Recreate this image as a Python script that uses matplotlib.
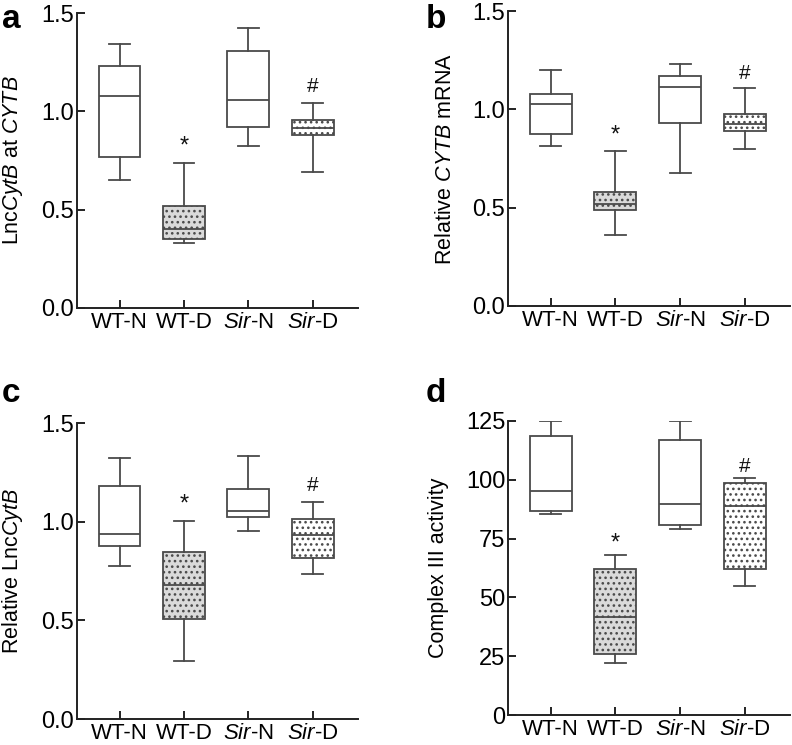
import numpy as np
import matplotlib
matplotlib.use("Agg")
import matplotlib.pyplot as plt

plt.rcParams['font.family'] = ['Liberation Sans', 'DejaVu Sans']
plt.rcParams['mathtext.fontset'] = 'custom'
plt.rcParams['mathtext.rm'] = 'Liberation Sans'
plt.rcParams['mathtext.it'] = 'Liberation Sans:italic'
plt.rcParams['mathtext.bf'] = 'Liberation Sans:bold'
plt.rcParams['hatch.color'] = '#3a3a3a'
plt.rcParams['hatch.linewidth'] = 1.1

groups = ["WT-N", "WT-D", r"$\mathit{Sir}$-N", r"$\mathit{Sir}$-D"]

# box stats per panel: whisker low, Q1, median, Q3, whisker high
a_lo = [0.652, 0.331, 0.823, 0.691]
a_q1 = [0.769, 0.353, 0.922, 0.878]
a_med = [1.080, 0.402, 1.059, 0.913]
a_q3 = [1.229, 0.520, 1.307, 0.954]
a_hi = [1.340, 0.735, 1.424, 1.042]

b_lo = [0.815, 0.359, 0.678, 0.798]
b_q1 = [0.875, 0.490, 0.932, 0.888]
b_med = [1.029, 0.519, 1.115, 0.927]
b_q3 = [1.080, 0.578, 1.168, 0.978]
b_hi = [1.200, 0.790, 1.229, 1.107]

c_lo = [0.777, 0.296, 0.953, 0.733]
c_q1 = [0.878, 0.508, 1.025, 0.818]
c_med = [0.937, 0.677, 1.054, 0.934]
c_q3 = [1.179, 0.848, 1.167, 1.013]
c_hi = [1.321, 1.003, 1.333, 1.098]

d_lo = [85.5, 21.9, 78.9, 54.8]
d_q1 = [86.8, 25.9, 80.8, 62.1]
d_med = [95.3, 41.6, 89.9, 88.8]
d_q3 = [118.5, 62.1, 116.8, 98.7]
d_hi = [124.9, 68.0, 124.9, 100.8]

marks = ["", "*", "", "#"]

panels = [
    ("a", r"Lnc$\mathit{CytB}$ at $\mathit{CYTB}$", (a_lo, a_q1, a_med, a_q3, a_hi), [0, 0.5, 1.0, 1.5], "{:.1f}"),
    ("b", r"Relative $\mathit{CYTB}$ mRNA", (b_lo, b_q1, b_med, b_q3, b_hi), [0, 0.5, 1.0, 1.5], "{:.1f}"),
    ("c", r"Relative Lnc$\mathit{CytB}$", (c_lo, c_q1, c_med, c_q3, c_hi), [0, 0.5, 1.0, 1.5], "{:.1f}"),
    ("d", "Complex III activity", (d_lo, d_q1, d_med, d_q3, d_hi), [0, 25, 50, 75, 100, 125], "{:d}"),
]

W, H = 792, 745
fig = plt.figure(figsize=(W / 100, H / 100), dpi=100)

# axes boxes in pixels: left, right, top, bottom
boxes = [(77, 358, 13, 308), (508, 790, 11, 306), (77, 358, 423, 719), (508, 790, 421, 715)]
letter_pos = [(2, 28), (426, 28), (2, 402), (426, 402)]
mark_gap = [12, 11, 12, 8]   # points above whisker cap

line_col = '#4a4a4a'
fills = ['white', '#dadada', 'white', 'white']
hatches = [None, '...', None, '...']

for (letter, ylab, st, yt, fmt), (l, r, t, b), (lx, ly), gap in zip(panels, boxes, letter_pos, mark_gap):
    ax = fig.add_axes([l / W, 1 - b / H, (r - l) / W, (b - t) / H])
    lo, q1, med, q3, hi = st
    stats = []
    for i in range(4):
        stats.append({"whislo": lo[i], "q1": q1[i], "med": med[i], "q3": q3[i], "whishi": hi[i], "fliers": []})
    bp = ax.bxp(stats, positions=np.arange(4), widths=0.65, patch_artist=True, showfliers=False,
                boxprops=dict(edgecolor=line_col, linewidth=1.3),
                whiskerprops=dict(color=line_col, linewidth=1.3),
                capprops=dict(color=line_col, linewidth=1.3),
                medianprops=dict(color=line_col, linewidth=1.3))
    for patch, fc, h in zip(bp['boxes'], fills, hatches):
        patch.set_facecolor(fc)
        if h:
            patch.set_hatch(h)

    for i, m in enumerate(marks):
        if m == "*":
            ax.annotate(m, (i, hi[i]), xytext=(0, gap), textcoords='offset points',
                        ha='center', va='center', fontsize=17, color='#111111')
        elif m:
            ax.annotate(m, (i, hi[i]), xytext=(0, gap), textcoords='offset points',
                        ha='center', va='center', fontsize=15, color='#111111')

    ax.set_xlim(-0.66, 3.7)
    ax.set_ylim(yt[0], yt[-1])
    ax.set_yticks(yt)
    ax.set_yticklabels([fmt.format(v) for v in yt])
    ax.set_xticks(np.arange(4))
    ax.set_xticklabels(groups)
    ax.spines['top'].set_visible(False)
    ax.spines['right'].set_visible(False)
    for s in ['left', 'bottom']:
        ax.spines[s].set_linewidth(1.4)
        ax.spines[s].set_color('#222222')
    ax.tick_params(axis='y', direction='in', labelsize=17, length=6, width=1.4, color='#222222', pad=2)
    ax.tick_params(axis='x', direction='in', labelsize=16, length=5.5, width=1.4, color='#222222', pad=3)
    ax.set_ylabel(ylab, fontsize=15.5, labelpad=12)

    fig.text(lx / W, 1 - ly / H, letter, fontsize=24, fontweight='bold', ha='left', va='baseline')

fig.savefig("out.png", dpi=100)
